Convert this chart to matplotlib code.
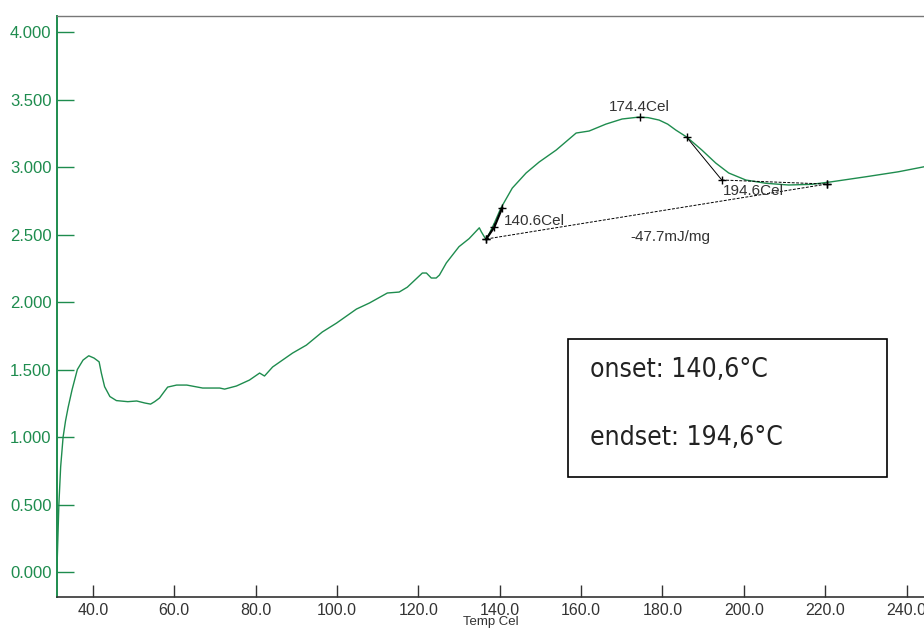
import matplotlib
matplotlib.use("Agg")
import matplotlib.pyplot as plt
from matplotlib.patches import Rectangle

# DSC trace (temperature in Cel, heat flow signal)
temp = [31.17, 31.66, 32.1, 32.7, 33.3, 33.94, 34.9, 36.2, 37.6, 39.0, 40.3, 41.55,
        42.1, 42.9, 44.2, 45.8, 48.6, 50.8, 52.8, 54.2, 55.2, 56.4, 57.4, 58.4, 60.6,
        63.1, 67.0, 71.2, 72.4, 75.3, 78.5, 81.0, 82.2, 84.2, 89.1, 92.5, 96.4, 99.9,
        104.8, 108.0, 112.4, 115.3, 117.3, 121.0, 122.0, 123.2, 124.4, 125.2, 126.9,
        130.0, 132.5, 135.0, 135.5, 136.7, 138.7, 140.3, 143.1, 146.5, 149.7, 153.9,
        158.8, 162.0, 166.1, 170.1, 174.2, 176.5, 179.2, 181.3, 183.3, 186.0, 189.7,
        193.1, 196.3, 200.5, 205.4, 211.0, 216.7, 221.6, 230.0, 238.0, 244.3]
signal = [0.00, 0.50, 0.78, 1.00, 1.12, 1.22, 1.35, 1.50, 1.57, 1.602, 1.585, 1.557,
          1.474, 1.373, 1.30, 1.27, 1.262, 1.267, 1.252, 1.244, 1.262, 1.289, 1.33, 1.37,
          1.385, 1.385, 1.363, 1.363, 1.355, 1.378, 1.422, 1.474, 1.452, 1.519, 1.622,
          1.681, 1.778, 1.844, 1.948, 1.993, 2.067, 2.074, 2.11, 2.215, 2.215, 2.178,
          2.178, 2.20, 2.29, 2.41, 2.47, 2.55, 2.52, 2.46, 2.585, 2.696, 2.844, 2.956,
          3.037, 3.126, 3.252, 3.267, 3.318, 3.356, 3.37, 3.366, 3.348, 3.318, 3.274,
          3.222, 3.126, 3.03, 2.956, 2.904, 2.88, 2.867, 2.872, 2.891, 2.928, 2.965, 3.002]

# analysis points
base_t = [136.7, 220.4]
base_y = [2.467, 2.874]
onset_t = [136.7, 138.7, 140.6]
onset_y = [2.467, 2.556, 2.696]
peak_t, peak_y = 174.4, 3.37
end_t = [186.0, 194.6, 220.4]
end_y = [3.22, 2.904, 2.874]

green = "#1e8c4e"
gray = "#333333"

plt.rcParams["font.family"] = ["Liberation Sans", "DejaVu Sans"]

fig = plt.figure(figsize=(9.24, 6.33), dpi=100)
ax = fig.add_axes([57 / 924, 36 / 633, 1 - 57 / 924, (597 - 16) / 633])

ax.plot(temp, signal, color=green, lw=1.0)

ax.plot(base_t, base_y, color="black", lw=0.7, ls=(0, (3, 1.5)))
ax.plot(onset_t, onset_y, color="black", lw=1.6)
ax.plot(onset_t, onset_y, "+", color="black", ms=6, mew=1)
ax.plot(base_t, base_y, "+", color="black", ms=6, mew=1)
ax.plot(end_t[:2], end_y[:2], color="black", lw=0.7)
ax.plot(end_t[1:], end_y[1:], color="black", lw=0.7, ls=(0, (3, 1.5)))
ax.plot(end_t, end_y, "+", color="black", ms=6, mew=1)
ax.plot([peak_t], [peak_y], "+", color="black", ms=6, mew=1)

ax.text(peak_t, peak_y + 0.02, "174.4Cel", ha="center", va="bottom", fontsize=11, color=gray)
ax.text(141.0, 2.60, "140.6Cel", ha="left", va="center", fontsize=11, color=gray)
ax.text(194.8, 2.82, "194.6Cel", ha="left", va="center", fontsize=11, color=gray)
ax.text(182.0, 2.48, "-47.7mJ/mg", ha="center", va="center", fontsize=11, color=gray)

ax.set_xlim(31.2, 244.3)
ax.set_ylim(-0.185, 4.119)
ax.set_xticks([40, 60, 80, 100, 120, 140, 160, 180, 200, 220, 240])
ax.set_xticklabels([f"{v:.1f}" for v in ax.get_xticks()])
ax.set_yticks([0, 0.5, 1, 1.5, 2, 2.5, 3, 3.5, 4])
ax.set_yticklabels([f"{v:.3f}" for v in ax.get_yticks()])

ax.tick_params(axis="y", direction="in", length=12, width=1, color=green,
               labelcolor=green, labelsize=12, pad=4)
ax.tick_params(axis="x", direction="in", length=9, width=1, color=gray,
               labelcolor=gray, labelsize=11.5, pad=4)
ax.spines["left"].set_color(green)
ax.spines["left"].set_linewidth(1.4)
ax.spines["bottom"].set_color(gray)
ax.spines["bottom"].set_linewidth(1.2)
ax.spines["top"].set_color("#777777")
ax.spines["top"].set_linewidth(1.0)
ax.spines["right"].set_visible(False)

ax.set_xlabel("Temp Cel", fontsize=9.5, color=gray, labelpad=-1)

# result box
box = Rectangle((568 / 924, 1 - 477 / 633), (887 - 568) / 924, (477 - 339) / 633,
                transform=fig.transFigure, fill=False, ec="black", lw=1.2)
fig.patches.append(box)
fig.text(590 / 924, 1 - 370 / 633, "onset: 140,6°C", fontsize=19, va="center",
         family="DejaVu Sans", fontstretch="condensed", color="#222222")
fig.text(590 / 924, 1 - 438 / 633, "endset: 194,6°C", fontsize=19, va="center",
         family="DejaVu Sans", fontstretch="condensed", color="#222222")

fig.savefig("out.png", dpi=100)
